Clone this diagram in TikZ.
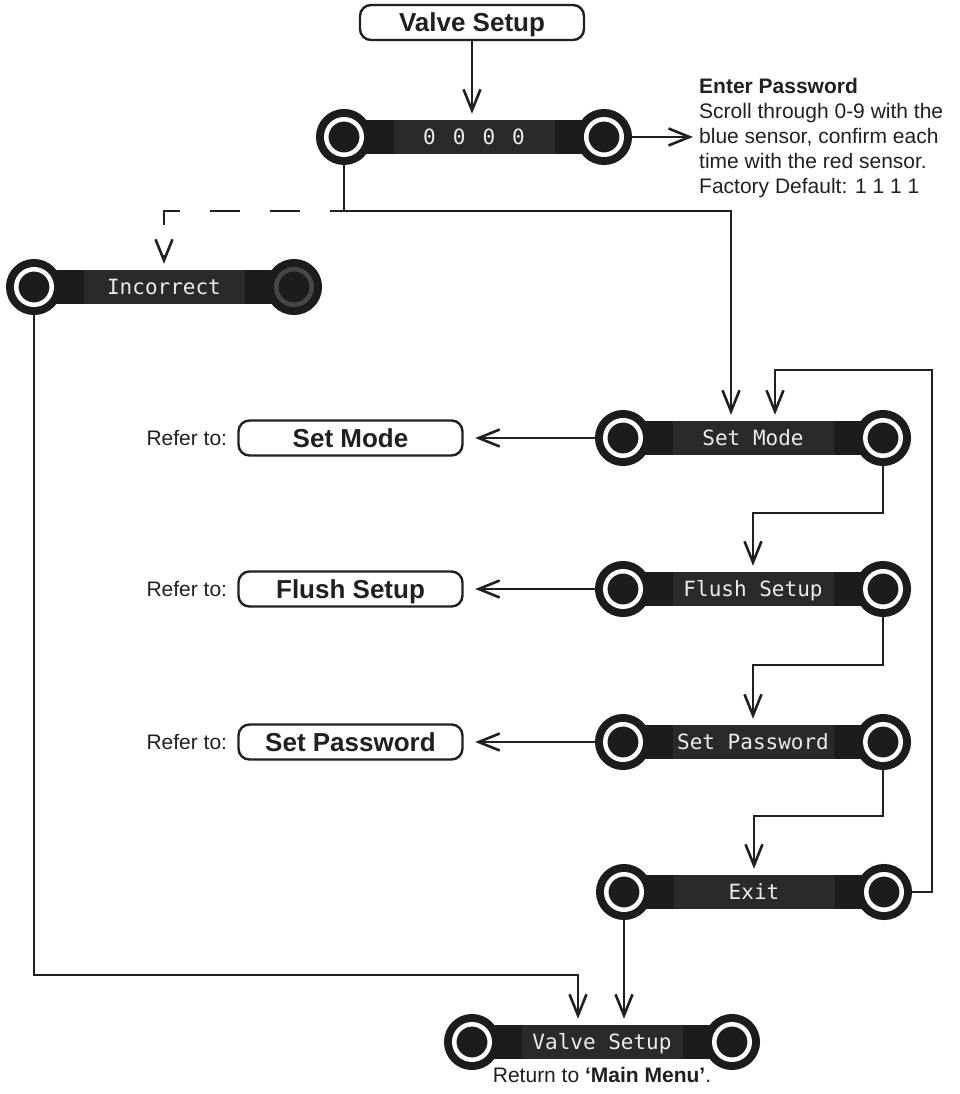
\documentclass[tikz,border=0pt]{standalone}
\usepackage{fontspec}
\setmainfont{Liberation Sans}
\newfontfamily\lcdfont{DejaVu Sans Mono}
\usepackage{tikz}
\usetikzlibrary{arrows.meta,positioning}

\definecolor{ink}{HTML}{231F20}
\definecolor{lcdbody}{HTML}{1C1C1C}
\definecolor{lcdpanel}{HTML}{2A2A2A}
\definecolor{lcdglow}{HTML}{ECECEC}
\definecolor{knoboff}{HTML}{474747}

\begin{document}
\begin{tikzpicture}[
  x=1pt,y=-1pt,
  font=\fontsize{21}{25}\selectfont,
  color=ink,
  menu/.style={draw,line width=2.4pt,rounded corners=11pt,fill=white,minimum width=224pt,minimum height=35pt,text height=23pt,text depth=4pt,inner sep=0pt,font=\fontsize{26}{30}\selectfont\bfseries},
  lcdbar/.style={fill=lcdbody,minimum width=260pt,minimum height=34pt,inner sep=0pt,outer sep=0pt},
  lcdpane/.style={fill=lcdpanel,text=lcdglow,minimum width=161pt,minimum height=34pt,text height=15pt,text depth=0pt,inner sep=0pt,font=\lcdfont\fontsize{21}{25}\selectfont},
  knob/.style={circle,fill=lcdbody,draw=lcdbody,line width=8pt,double=white,double distance=4.5pt,minimum size=35.5pt,inner sep=0pt,outer sep=10.25pt},
  refer/.style={inner sep=0pt},
  to/.style={-{Straight Barb[length=21pt,width=17pt]},line width=2.6pt,shorten >=6pt},
  skip/.style={to,dash pattern=on 30pt off 30pt,dash phase=16pt},
  every node/.style={align=center}]

  \path[use as bounding box,fill=white] (0,0) rectangle (959,1094);

  % The displays: bar, two sensors, text panel
  \foreach \n/\x/\y/\t/\r in {
      pw/474/137/{{\spaceskip=17pt 0 0 0 0}}/white,
      inc/164/287/Incorrect/knoboff,
      sm/753/438/Set Mode/white,
      fs/753/589/Flush Setup/white,
      sp/753/742/Set Password/white,
      ex/754/892/Exit/white,
      vs/602/1042/Valve Setup/white}{
    \node[lcdbar] (\n-bar) at (\x,\y) {};
    \node[knob] (\n-l) at (\n-bar.west) {};
    \node[knob,double=\r] (\n-r) at (\n-bar.east) {};
    \node[lcdpane] (\n) at (\n-bar) {\t};
  }

  % Menu boxes and texts
  \node[menu] (valve) at (472,22.5) {Valve Setup};
  \node[menu] (smref) at (350.5,438) {Set Mode};
  \node[menu] (fsref) at (350.5,589) {Flush Setup};
  \node[menu] (spref) at (350.5,742) {Set Password};
  \node[refer,left=10pt of smref] (smlbl) {Refer to:};
  \node[refer,left=10pt of fsref] (fslbl) {Refer to:};
  \node[refer,left=10pt of spref] (splbl) {Refer to:};
  \node[refer,anchor=north west,align=left] (note) at (699,78)
    {\textbf{Enter Password}\\Scroll through 0-9 with the\\blue sensor, confirm each\\time with the red sensor.\\Factory Default: 1 1 1 1};
  \node[refer,anchor=base] (back) at (602,1082) {Return to \textbf{‘Main Menu’}.};

  % Draw the arrows between the nodes
  \draw[to] (valve.south) -- (valve.south |- pw.north);
  \draw[to] (pw-r) -- (pw-r -| note.west);
  \draw[line width=2.6pt] (pw-l.south) -- ++(0,46) coordinate (split);
  \draw[to] (split) -| ([xshift=-22pt]sm.north);
  \draw[skip] (split) -| (inc.north);
  \draw[to] (inc-l.south) |- ([xshift=-24pt,yshift=50pt]vs.north) -- ([xshift=-24pt]vs.north);
  \draw[to] (ex-l.south) -- (ex-l.south |- vs.north);
  \draw[to] (ex-r.east) -| ++(20,-522) -| ([xshift=22pt]sm.north);
  \draw[to] (sm-r.south) |- ([yshift=59pt]fs.north) -- (fs.north);
  \draw[to] (fs-r.south) |- ([yshift=60pt]sp.north) -- (sp.north);
  \draw[to] (sp-r.south) |- ([yshift=59pt]ex.north) -- (ex.north);
  \draw[to,shorten >=11.5pt] (sm-l.west) -- (sm-l.west -| smref.east);
  \draw[to,shorten >=11.5pt] (fs-l.west) -- (fs-l.west -| fsref.east);
  \draw[to,shorten >=11.5pt] (sp-l.west) -- (sp-l.west -| spref.east);
\end{tikzpicture}
\end{document}
